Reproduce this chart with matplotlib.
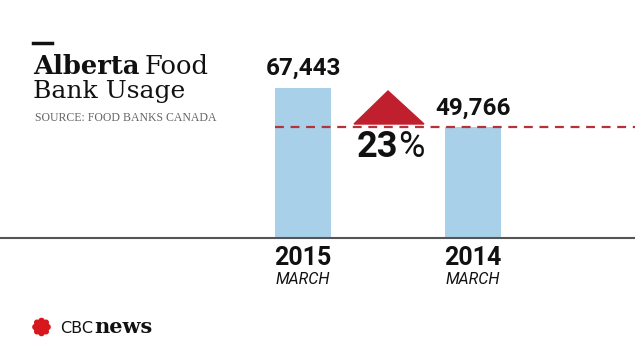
import matplotlib.pyplot as plt
import matplotlib.patches as mpatches

W, H = 635, 357

# chart data
years = ["2015", "2014"]
months = ["MARCH", "MARCH"]
users = [67443, 49766]
value_labels = ["67,443", "49,766"]
change_pct = "23"

bar_x = [303, 473]
bar_color = "#a8d1e9"
red = "#c0202e"

fig = plt.figure(figsize=(W / 100, H / 100), dpi=100)
fig.patch.set_facecolor("white")

# pixel -> figure fraction helper (y measured from the top)
def px(x, y):
    return x / W, 1 - y / H

# axes spans whole figure; baseline at y=238px, 150px for the largest value
base_px = 238
k = users[0] / 150.0
ax = fig.add_axes([0, 0, 1, 1])
ax.set_xlim(0, W)
ax.set_ylim(-(H - base_px) * k, base_px * k)
ax.axis("off")

ax.bar(bar_x, users, width=56, color=bar_color, zorder=1)
ax.axhline(0, color="#555555", lw=1.5, zorder=3)
ax.plot([275, W], [users[1], users[1]], color="#b5323a", lw=1.6,
        dashes=(4, 3), zorder=2)

# value labels
num_font = "Roboto"
for x, v, lab in zip(bar_x, users, value_labels):
    ax.text(x, v + 8 * k, lab, ha="center", va="bottom", fontsize=17.5,
            fontweight="bold", family=num_font, color="#111111")

# year / month labels
for x, yr, m in zip(bar_x, years, months):
    fig.text(*px(x, 258), yr, ha="center", va="center", fontsize=18,
             fontweight="bold", family=num_font, color="#111111")
    fig.text(*px(x, 280), m, ha="center", va="center", fontsize=11.5,
             style="italic", family=num_font, color="#111111")

# red triangle marker
tri = mpatches.Polygon([px(354, 124), px(424, 124), px(388, 91)],
                       closed=True, transform=fig.transFigure,
                       color=red, zorder=4)
fig.patches.append(tri)

# percent change
fig.text(*px(398, 147), change_pct, ha="right", va="center", fontsize=26,
         fontweight="bold", family=num_font, color="#111111")
fig.text(*px(398, 147), "%", ha="left", va="center", fontsize=26,
         family=num_font, color="#111111")

# title block
fig.add_artist(plt.Line2D([33 / W, 52 / W], [1 - 43 / H, 1 - 43 / H],
                          color="#111111", lw=2.5, transform=fig.transFigure))
t1 = fig.text(*px(33, 74), "Alberta", ha="left", va="baseline", fontsize=18.5,
              fontweight="bold", family="DejaVu Serif", color="#111111")
fig.canvas.draw()
bb = t1.get_window_extent()
fig.text(bb.x1 / W + 5 / W, 1 - 74 / H, "Food", ha="left", va="baseline",
         fontsize=18.5, family="DejaVu Serif", color="#111111")
fig.text(*px(33, 98), "Bank Usage", ha="left", va="baseline", fontsize=18,
         family="DejaVu Serif", color="#111111")
fig.text(*px(35, 121), "SOURCE: FOOD BANKS CANADA", ha="left", va="baseline",
         fontsize=8.5, family="Liberation Serif", color="#666666")

# CBC logo (approximate gem)
cx, cy = 41.5, 327
gem = [(0, 0, 3.2), (-6, 0, 2.6), (6, 0, 2.6), (0, -6, 2.6), (0, 6, 2.6),
       (-4.5, -4.5, 2.3), (4.5, -4.5, 2.3), (-4.5, 4.5, 2.3), (4.5, 4.5, 2.3)]
for dx, dy, r in gem:
    c = mpatches.Ellipse(px(cx + dx, cy + dy), 2 * r / W, 2 * r / H,
                         transform=fig.transFigure, color="#d6171e")
    fig.patches.append(c)
t2 = fig.text(*px(60, 333), "CBC", ha="left", va="baseline", fontsize=11.5,
              family="DejaVu Sans", color="#111111")
fig.canvas.draw()
bb2 = t2.get_window_extent()
fig.text(bb2.x1 / W + 1 / W, 1 - 333 / H, "news", ha="left", va="baseline",
         fontsize=15, fontweight="bold", family="DejaVu Serif", color="#111111")

fig.savefig("out.png", dpi=100)
